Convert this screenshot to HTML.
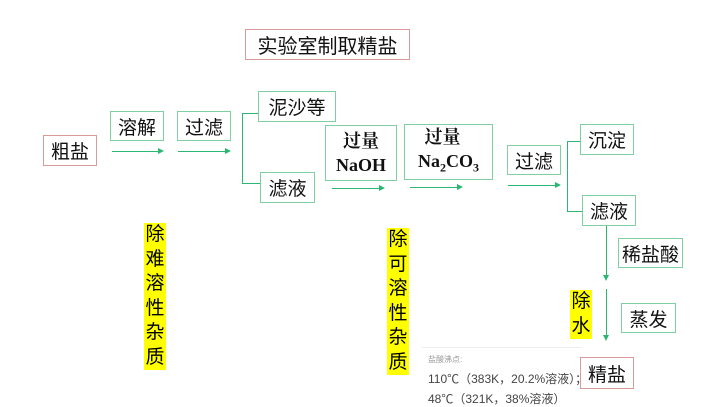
<!DOCTYPE html>
<html><head><meta charset="utf-8"><style>
body{margin:0;width:720px;height:405px;background:#fff;position:relative;overflow:hidden;font-family:"Liberation Sans","Noto Sans CJK SC",sans-serif;}
.b{position:absolute;box-sizing:border-box;border:1.5px solid #7fcfa3;background:#fff;display:flex;align-items:center;justify-content:center;font-size:19px;color:#111;}
.r{border-color:#d99a9a;}
.l{position:absolute;background:#2bb673;}
.y{position:absolute;width:22px;font-size:19px;line-height:24.5px;text-align:center;}
.y span{background:#ffff00;display:block;margin-bottom:0px;}
.arr{position:absolute;width:0;height:0;border-top:3px solid transparent;border-bottom:3px solid transparent;border-left:6px solid #2bb673;}
.ad{position:absolute;width:0;height:0;border-left:3px solid transparent;border-right:3px solid transparent;border-top:6px solid #2bb673;}
.s{font-family:"Liberation Serif","Noto Serif CJK SC",serif;font-weight:bold;}
</style></head><body>
<div class="b r" style="left:245px;top:29px;width:165px;height:31px;font-size:20px">实验室制取精盐</div>
<div class="b r" style="left:43px;top:135px;width:54px;height:31px">粗盐</div>
<div class="b" style="left:110px;top:111px;width:54px;height:30px">溶解</div>
<div class="l" style="left:112px;top:151px;width:46px;height:1px"></div><div class="arr" style="left:158px;top:148px"></div>
<div class="b" style="left:177px;top:111px;width:54px;height:30px">过滤</div>
<div class="l" style="left:178px;top:151px;width:47px;height:1px"></div><div class="arr" style="left:225px;top:148px"></div>
<div class="l" style="left:242px;top:113px;width:1px;height:70px"></div>
<div class="l" style="left:242px;top:113px;width:16px;height:1px"></div>
<div class="l" style="left:242px;top:183px;width:18px;height:1px"></div>
<div class="b" style="left:258px;top:91px;width:78px;height:31px">泥沙等</div>
<div class="b" style="left:260px;top:172px;width:55px;height:31px">滤液</div>
<div class="b s" style="left:325px;top:125px;width:72px;height:56px;flex-direction:column;line-height:24px;font-size:18px"><div>过量</div><div>NaOH</div></div>
<div class="l" style="left:332px;top:188px;width:47px;height:1px"></div><div class="arr" style="left:379px;top:185px"></div>
<div class="b s" style="left:404px;top:124px;width:89px;height:56px;flex-direction:column;line-height:24px;font-size:18px"><div style="margin-right:12px">过量</div><div>Na<sub style="font-size:12px">2</sub>CO<sub style="font-size:12px">3</sub></div></div>
<div class="l" style="left:410px;top:187px;width:47px;height:1px"></div><div class="arr" style="left:457px;top:184px"></div>
<div class="b" style="left:507px;top:145px;width:54px;height:30px">过滤</div>
<div class="l" style="left:508px;top:185px;width:47px;height:1px"></div><div class="arr" style="left:555px;top:182px"></div>
<div class="l" style="left:567px;top:141px;width:1px;height:70px"></div>
<div class="l" style="left:567px;top:141px;width:13px;height:1px"></div>
<div class="l" style="left:567px;top:211px;width:15px;height:1px"></div>
<div class="b" style="left:580px;top:124px;width:54px;height:31px">沉淀</div>
<div class="b" style="left:582px;top:195px;width:54px;height:31px">滤液</div>
<div class="l" style="left:606px;top:226px;width:1px;height:50px"></div><div class="ad" style="left:603px;top:275px"></div>
<div class="l" style="left:606px;top:289px;width:1px;height:46px"></div><div class="ad" style="left:603px;top:335px"></div>
<div class="b" style="left:618px;top:238px;width:65px;height:30px">稀盐酸</div>
<div class="b" style="left:621px;top:303px;width:55px;height:30px">蒸发</div>
<div class="y" style="left:144px;top:223px"><span>除</span><span>难</span><span>溶</span><span>性</span><span>杂</span><span>质</span></div>
<div class="y" style="left:387px;top:228px"><span>除</span><span>可</span><span>溶</span><span>性</span><span>杂</span><span>质</span></div>
<div class="y" style="left:570px;top:290px"><span>除</span><span>水</span></div>
<div style="position:absolute;left:422px;top:347px;width:160px;height:58px;border-top:1px solid #eee;background:#fff;font-size:12px;color:#444;">
<div style="font-size:8px;color:#999;margin:6px 0 0 6px">盐酸沸点:</div>
<div style="margin:5px 0 0 6px;white-space:nowrap">110℃（383K，20.2%溶液）；</div>
<div style="margin:3px 0 0 6px;white-space:nowrap">48℃（321K，38%溶液）</div>
</div>
<div class="b r" style="left:580px;top:357px;width:54px;height:32px">精盐</div>
</body></html>
